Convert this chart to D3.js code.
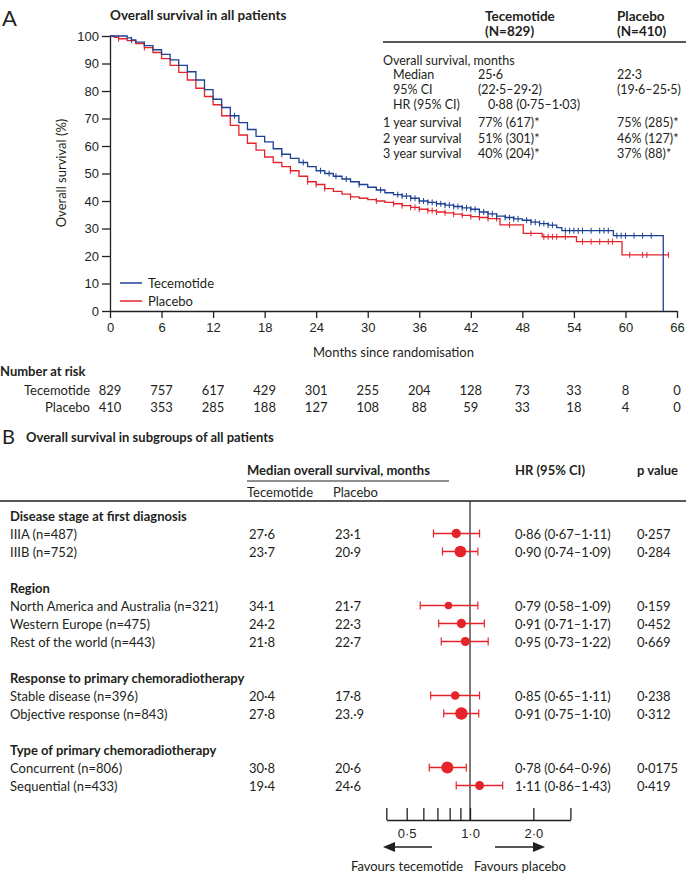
<!DOCTYPE html>
<html lang="en">
<head>
<meta charset="UTF-8">
<title>Tecemotide overall survival</title>
<script src="https://cdn.jsdelivr.net/npm/d3@7"></script>
<style>
  body { margin: 0; background: #fff; }
  svg { font-family: Lato, "Noto Sans", sans-serif; fill: #231f20; }
  .axis path, .axis line { stroke: #231f20; stroke-width: 1.3px; }
  .axis text { font-size: 13px; fill: #231f20; }
  .bold { font-weight: bold; }
</style>
</head>
<body>
<svg width="686" height="874"></svg>
<script>
// ---- panel A data ----
var tecSteps = [[0,100],[1.5,100],[2,99.3],[2.5,98.6],[3,97.8],[4,96.5],[5,95],[6,93.3],[7,91.3],[8,89.3],[9,87],[10,84],[11,80.5],
  [12,77],[13,74],[14,71],[15,68.5],[16,66],[17,63.5],[18,61.5],[19,59],[20,57],[21,55.5],[22,54],[23,52.5],[24,51],
  [25,50],[26,49],[27,48],[28,47],[29,46],[30,45],[31,44],[32,43],[33,42.3],[34,41.8],[35,41],[36,40],[37,39.5],
  [38,39],[39,38.5],[40,38],[41,37.5],[42,37],[43,36],[44,35.3],[45,34.5],[46,34],[47,33.5],[48,33],[49,32.3],
  [50,31.8],[51,31.2],[52,30.3],[52.6,29.2],[58.6,27.4],[64.4,0]];
var plaSteps = [[0,100],[0.5,99.5],[1,99],[2,98.3],[3,97.2],[4,95.8],[5,94],[6,91.8],[7,89.3],[8,86.8],[9,84],[10,81],
  [11,78],[12,75],[13,71],[14,67.5],[15,64],[16,61],[17,58.5],[18,56],[19,54],[20,52.5],[21,51],[22,49],[23,47],
  [24,46],[25,44.5],[26,43.5],[27,42.5],[28,41.5],[29,41],[30,40.5],[31,40],[32,39.5],[33,39],[34,38.3],[35,37.7],
  [36,37],[37,36.5],[38,36],[39,35.7],[40,35.2],[41,34.8],[42,34.3],[43,34],[44,33.6],[45.4,31.3],[48.1,28.2],
  [50.3,27],[54.3,25.2],[59.6,20.4],[65,20.4]];
var tecCensor = [2.5,14.5,20,22.5,24.5,25.5,26.3,27.5,29,31.5,33.5,34,34.5,35,35.5,36,36.5,37,37.5,38,38.5,39,39.5,
  40,40.5,41,41.5,42,42.5,43,43.5,44,44.5,45,46,46.5,47,47.5,48.5,49,49.5,50,50.5,51,51.5,53,53.5,54,54.5,55,56,
  57,57.5,58,59,59.5,60,61,62,63];
var plaCensor = [1,4,21,23,24,25,28,31,33,34,35,35.5,36,37,37.5,38,39,40,41,42,43,44,45,46.5,49,50.5,51,51.5,52,
  53,55,56,57,58,58.5,60.5,62,62.5,65];
var monthTicks = [0,6,12,18,24,30,36,42,48,54,60,66];
var tecAtRisk = [829,757,617,429,301,255,204,128,73,33,8,0];
var plaAtRisk = [410,353,285,188,127,108,88,59,33,18,4,0];
var tableRows = ["Overall survival, months","Median","95% CI","HR (95% CI)","1 year survival","2 year survival","3 year survival"];
var tableTec = ["","25·6","(22·5–29·2)","0·88 (0·75–1·03)","77% (617)*","51% (301)*","40% (204)*"];
var tablePla = ["","22·3","(19·6–25·5)","","75% (285)*","46% (127)*","37% (88)*"];

// ---- panel B data ----
var lineLabels = ["Disease stage at first diagnosis","IIIA (n=487)","IIIB (n=752)","",
  "Region","North America and Australia (n=321)","Western Europe (n=475)","Rest of the world (n=443)","",
  "Response to primary chemoradiotherapy","Stable disease (n=396)","Objective response (n=843)","",
  "Type of primary chemoradiotherapy","Concurrent (n=806)","Sequential (n=433)"];
var isHeader = [1,0,0,0,1,0,0,0,0,1,0,0,0,1,0,0];
var subN      = [null,487,752,null,null,321,475,443,null,null,396,843,null,null,806,433];
var tecMedian = ["","27·6","23·7","","","34·1","24·2","21·8","","","20·4","27·8","","","30·8","19·4"];
var plaMedian = ["","23·1","20·9","","","21·7","22·3","22·7","","","17·8","23.·9","","","20·6","24·6"];
var hr   = [null,0.86,0.90,null,null,0.79,0.91,0.95,null,null,0.85,0.91,null,null,0.78,1.11];
var hrLo = [null,0.67,0.74,null,null,0.58,0.71,0.73,null,null,0.65,0.75,null,null,0.64,0.86];
var hrHi = [null,1.11,1.09,null,null,1.09,1.17,1.22,null,null,1.11,1.10,null,null,0.96,1.43];
var hrText = ["","0·86 (0·67–1·11)","0·90 (0·74–1·09)","","","0·79 (0·58–1·09)","0·91 (0·71–1·17)","0·95 (0·73–1·22)",
  "","","0·85 (0·65–1·11)","0·91 (0·75–1·10)","","","0·78 (0·64–0·96)","1·11 (0·86–1·43)"];
var pText = ["","0·257","0·284","","","0·159","0·452","0·669","","","0·238","0·312","","","0·0175","0·419"];
var hrTicks = [0.4,0.5,0.6,0.7,0.8,0.9,1,2,3];

var blue = "#1d3f94", red = "#e4232b", ink = "#231f20";
var svg = d3.select("svg");

// ================= Panel A =================
var x = d3.scaleLinear().domain([0, 66]).range([110, 677]);
var y = d3.scaleLinear().domain([0, 100]).range([311, 36]);

svg.append("text").attr("x", 2).attr("y", 26).style("font-size", "22px").text("A");
svg.append("text").attr("class", "bold").attr("x", 110).attr("y", 20).style("font-size", "13.5px")
  .text("Overall survival in all patients");

svg.append("g").attr("class", "axis").attr("transform", "translate(0,311)")
  .call(d3.axisBottom(x).tickValues(monthTicks).tickSize(7).tickPadding(5).tickSizeOuter(0));
svg.append("g").attr("class", "axis").attr("transform", "translate(110,0)")
  .call(d3.axisLeft(y).ticks(10).tickSize(8).tickPadding(3).tickSizeOuter(0));

svg.append("text").attr("x", (110 + 677) / 2).attr("y", 357).attr("text-anchor", "middle")
  .style("font-size", "13px").text("Months since randomisation");
svg.append("text").attr("transform", "translate(66,173) rotate(-90)").attr("text-anchor", "middle")
  .style("font-size", "13px").text("Overall survival (%)");

var line = d3.line().x(function (d) { return x(d[0]); }).y(function (d) { return y(d[1]); })
  .curve(d3.curveStepAfter);

function survAt(steps, t) {
  var s = steps[0][1];
  for (var i = 0; i < steps.length; i++) { if (steps[i][0] <= t) s = steps[i][1]; }
  return s;
}

function drawCurve(steps, censor, col) {
  svg.append("path").datum(steps).attr("d", line)
    .attr("fill", "none").attr("stroke", col).attr("stroke-width", 1.3);
  svg.append("g").selectAll("line").data(censor).enter().append("line")
    .attr("x1", function (d) { return x(d); }).attr("x2", function (d) { return x(d); })
    .attr("y1", function (d) { return y(survAt(steps, d)) - 3; })
    .attr("y2", function (d) { return y(survAt(steps, d)) + 3; })
    .attr("stroke", col).attr("stroke-width", 1);
}
drawCurve(plaSteps, plaCensor, red);
drawCurve(tecSteps, tecCensor, blue);

// legend
[["Tecemotide", blue, 283], ["Placebo", red, 301]].forEach(function (l) {
  svg.append("line").attr("x1", 120).attr("x2", 142).attr("y1", l[2]).attr("y2", l[2])
    .attr("stroke", l[1]).attr("stroke-width", 1.5);
  svg.append("text").attr("x", 148).attr("y", l[2]).attr("dominant-baseline", "central")
    .style("font-size", "13px").text(l[0]);
});

// summary table
var tbl = svg.append("g").style("font-size", "12.5px");
tbl.append("text").attr("class", "bold").attr("x", 485).attr("y", 16).attr("dominant-baseline", "central").style("font-size", "13.5px").text("Tecemotide");
tbl.append("text").attr("class", "bold").attr("x", 485).attr("y", 31).attr("dominant-baseline", "central").style("font-size", "13.5px").text("(N=829)");
tbl.append("text").attr("class", "bold").attr("x", 617).attr("y", 16).attr("dominant-baseline", "central").style("font-size", "13.5px").text("Placebo");
tbl.append("text").attr("class", "bold").attr("x", 617).attr("y", 31).attr("dominant-baseline", "central").style("font-size", "13.5px").text("(N=410)");
tbl.append("line").attr("x1", 383).attr("x2", 686).attr("y1", 42).attr("y2", 42).attr("stroke", ink).attr("stroke-width", 1.3);
var rowY = [60, 74, 89, 104, 122, 138, 153];
var rowX = [383, 393, 393, 393, 383, 383, 383];
tableRows.forEach(function (r, i) {
  tbl.append("text").attr("x", rowX[i]).attr("y", rowY[i]).attr("dominant-baseline", "central").text(r);
  tbl.append("text").attr("x", i === 3 ? 488 : 478).attr("y", rowY[i]).attr("dominant-baseline", "central").text(tableTec[i]);
  tbl.append("text").attr("x", 617).attr("y", rowY[i]).attr("dominant-baseline", "central").text(tablePla[i]);
});

// number at risk
svg.append("text").attr("class", "bold").attr("x", 0).attr("y", 371).attr("dominant-baseline", "central")
  .style("font-size", "13px").text("Number at risk");
[["Tecemotide", tecAtRisk, 389.5], ["Placebo", plaAtRisk, 407]].forEach(function (r) {
  var g = svg.append("g").style("font-size", "13px");
  g.append("text").attr("x", 90).attr("y", r[2]).attr("text-anchor", "end").attr("dominant-baseline", "central").text(r[0]);
  g.selectAll("text.n").data(r[1]).enter().append("text").attr("class", "n")
    .attr("x", function (d, i) { return x(monthTicks[i]); })
    .attr("y", r[2]).attr("text-anchor", "middle").attr("dominant-baseline", "central")
    .text(function (d) { return d; });
});

// ================= Panel B =================
svg.append("text").attr("x", 2).attr("y", 444).style("font-size", "20px").text("B");
svg.append("text").attr("class", "bold").attr("x", 26).attr("y", 437).attr("dominant-baseline", "central")
  .style("font-size", "13px").text("Overall survival in subgroups of all patients");

var hx = d3.scaleLog().domain([0.4, 3]).range([386.3, 570.4]);
var ry = d3.scalePoint().domain(d3.range(lineLabels.length)).range([515.5, 785.5]);
var rScale = d3.scaleSqrt().domain([0, 843]).range([0, 6.2]);

var hdr = svg.append("g").style("font-size", "13px");
hdr.append("text").attr("class", "bold").attr("x", 247).attr("y", 470).attr("dominant-baseline", "central").text("Median overall survival, months");
hdr.append("line").attr("x1", 247).attr("x2", 449).attr("y1", 481).attr("y2", 481).attr("stroke", ink).attr("stroke-width", 1.2);
hdr.append("text").attr("x", 247).attr("y", 492).attr("dominant-baseline", "central").text("Tecemotide");
hdr.append("text").attr("x", 333).attr("y", 492).attr("dominant-baseline", "central").text("Placebo");
hdr.append("text").attr("class", "bold").attr("x", 515).attr("y", 470).attr("dominant-baseline", "central").text("HR (95% CI)");
hdr.append("text").attr("class", "bold").attr("x", 637).attr("y", 470).attr("dominant-baseline", "central").text("p value");
hdr.append("line").attr("x1", 0).attr("x2", 686).attr("y1", 501).attr("y2", 501).attr("stroke", ink).attr("stroke-width", 1.3);

// reference line at HR = 1
svg.append("line").attr("x1", hx(1)).attr("x2", hx(1)).attr("y1", 501).attr("y2", 820)
  .attr("stroke", ink).attr("stroke-width", 1.2);

var rows = svg.append("g").style("font-size", "13px");
lineLabels.forEach(function (lab, i) {
  var yy = ry(i);
  rows.append("text").attr("x", 10).attr("y", yy).attr("dominant-baseline", "central")
    .attr("class", isHeader[i] ? "bold" : null).text(lab);
  rows.append("text").attr("x", 249).attr("y", yy).attr("dominant-baseline", "central").text(tecMedian[i]);
  rows.append("text").attr("x", 335).attr("y", yy).attr("dominant-baseline", "central").text(plaMedian[i]);
  rows.append("text").attr("x", 515).attr("y", yy).attr("dominant-baseline", "central").text(hrText[i]);
  rows.append("text").attr("x", 637).attr("y", yy).attr("dominant-baseline", "central").text(pText[i]);
  if (hr[i] !== null) {
    var f = svg.append("g").attr("stroke", red).attr("fill", red);
    f.append("line").attr("x1", hx(hrLo[i])).attr("x2", hx(hrHi[i])).attr("y1", yy).attr("y2", yy).attr("stroke-width", 1.3);
    f.append("line").attr("x1", hx(hrLo[i])).attr("x2", hx(hrLo[i])).attr("y1", yy - 4).attr("y2", yy + 4).attr("stroke-width", 1.2);
    f.append("line").attr("x1", hx(hrHi[i])).attr("x2", hx(hrHi[i])).attr("y1", yy - 4).attr("y2", yy + 4).attr("stroke-width", 1.2);
    f.append("circle").attr("cx", hx(hr[i])).attr("cy", yy).attr("r", rScale(subN[i])).attr("stroke", "none");
  }
});

// HR axis
var hAxis = svg.append("g").attr("class", "axis").attr("transform", "translate(0,820)")
  .call(d3.axisBottom(hx).tickValues(hrTicks).tickSize(-12).tickPadding(8).tickSizeOuter(0)
    .tickFormat(function (d) { return d === 0.5 ? "0·5" : d === 1 ? "1·0" : d === 2 ? "2·0" : ""; }));
hAxis.selectAll("text").attr("dy", "0.75em");

// arrows
var arr = svg.append("g").attr("fill", ink).attr("stroke", ink);
arr.append("line").attr("x1", 392).attr("x2", 432).attr("y1", 847).attr("y2", 847).attr("stroke-width", 1.5);
arr.append("path").attr("d", "M383,847 L395,842 L395,852 Z").attr("stroke", "none");
arr.append("line").attr("x1", 495).attr("x2", 536).attr("y1", 847).attr("y2", 847).attr("stroke-width", 1.5);
arr.append("path").attr("d", "M545,847 L533,842 L533,852 Z").attr("stroke", "none");
svg.append("text").attr("x", 407).attr("y", 866).attr("text-anchor", "middle").attr("dominant-baseline", "central")
  .style("font-size", "13px").text("Favours tecemotide");
svg.append("text").attr("x", 520).attr("y", 866).attr("text-anchor", "middle").attr("dominant-baseline", "central")
  .style("font-size", "13px").text("Favours placebo");
</script>
</body>
</html>
